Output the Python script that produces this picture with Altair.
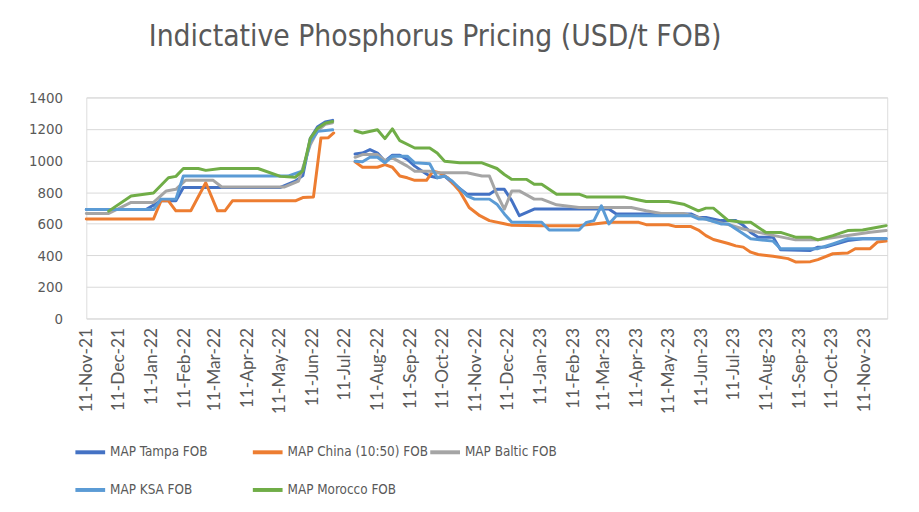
import altair as alt
import pandas as pd

SERIES = ["MAP Tampa FOB", "MAP China (10:50) FOB", "MAP Baltic FOB", "MAP KSA FOB", "MAP Morocco FOB"]
COLORS = ["#4472C4", "#ED7D31", "#A5A5A5", "#5B9BD5", "#70AD47"]

TAMPA_DATES = ["2021-11-11", "2022-01-06", "2022-01-20", "2022-02-03", "2022-02-10", "2022-05-12", "2022-05-26",
               "2022-06-02", "2022-06-09", "2022-06-16", "2022-06-23", "2022-06-30",
               "2022-07-21", "2022-07-28", "2022-08-04", "2022-08-11", "2022-08-18", "2022-08-25", "2022-09-01",
               "2022-09-08", "2022-09-15", "2022-09-22", "2022-09-29", "2022-10-06", "2022-10-13", "2022-10-20",
               "2022-11-03", "2022-11-24", "2022-12-01", "2022-12-08", "2022-12-15", "2022-12-22", "2022-12-29",
               "2023-01-05", "2023-03-16", "2023-03-23", "2023-06-01", "2023-06-08", "2023-06-15", "2023-06-29",
               "2023-07-13", "2023-07-20", "2023-07-27", "2023-08-03", "2023-08-17", "2023-08-24", "2023-09-21",
               "2023-09-28", "2023-10-05", "2023-10-26", "2023-11-09", "2023-12-01"]
TAMPA_VALUES = [690, 690, 745, 745, 830, 830, 870, 905, 1140, 1215, 1245, 1255,
                1042, 1048, 1070, 1048, 996, 1034, 1034, 1007, 965, 933, 902, 891, 902, 860,
                787, 787, 818, 818, 745, 651, 672, 693, 693, 662, 662, 640, 640, 620,
                620, 590, 545, 515, 515, 435, 431, 452, 452, 494, 505, 505]

CHINA_DATES = ["2021-11-11", "2022-01-13", "2022-01-20", "2022-01-27", "2022-02-03", "2022-02-17", "2022-03-03",
               "2022-03-14", "2022-03-21", "2022-03-28", "2022-05-26", "2022-06-02", "2022-06-12", "2022-06-19",
               "2022-06-26", "2022-07-01",
               "2022-07-21", "2022-07-28", "2022-08-11", "2022-08-18", "2022-08-25", "2022-09-01", "2022-09-08",
               "2022-09-15", "2022-09-26", "2022-10-02", "2022-10-08", "2022-10-16", "2022-10-27", "2022-11-05",
               "2022-11-15", "2022-11-24", "2022-12-08", "2022-12-15", "2023-01-12", "2023-02-16", "2023-03-02",
               "2023-03-16", "2023-04-13", "2023-04-20", "2023-05-11", "2023-05-18", "2023-06-01", "2023-06-08",
               "2023-06-15", "2023-06-22", "2023-07-06", "2023-07-13", "2023-07-20", "2023-07-27", "2023-08-03",
               "2023-08-17", "2023-08-31", "2023-09-07", "2023-09-21", "2023-09-28", "2023-10-12", "2023-10-26",
               "2023-11-02", "2023-11-16", "2023-11-23", "2023-12-01"]
CHINA_VALUES = [630, 630, 745, 745, 682, 682, 860, 682, 682, 745, 745, 766, 770, 1143, 1145, 1175,
                992, 958, 958, 975, 958, 902, 891, 875, 875, 933, 923, 891, 808, 703,
                651, 620, 600, 590, 588, 588, 599, 609, 609, 594, 594, 582, 582, 560,
                525, 500, 475, 460, 452, 420, 405, 394, 379, 358, 360, 373, 410, 415,
                442, 442, 485, 490]

BALTIC_DATES = ["2021-11-11", "2021-12-02", "2021-12-23", "2022-01-13", "2022-01-25", "2022-02-03", "2022-02-12",
                "2022-03-10", "2022-03-18", "2022-05-16", "2022-05-29", "2022-06-09", "2022-06-16", "2022-06-23",
                "2022-06-30",
                "2022-07-21", "2022-07-28", "2022-08-11", "2022-08-18", "2022-08-25", "2022-09-08", "2022-09-15",
                "2022-09-29", "2022-10-06", "2022-11-03", "2022-11-17", "2022-11-24", "2022-12-01", "2022-12-08",
                "2022-12-15", "2022-12-22", "2023-01-05", "2023-01-12", "2023-01-26", "2023-02-16", "2023-04-06",
                "2023-04-20", "2023-05-04", "2023-05-25", "2023-06-08", "2023-06-22", "2023-07-06", "2023-07-20",
                "2023-08-10", "2023-09-07", "2023-09-28", "2023-10-05", "2023-10-26", "2023-11-16", "2023-12-01"]
BALTIC_VALUES = [665, 665, 735, 735, 808, 818, 875, 875, 833, 833, 870, 1100, 1190, 1230, 1240,
                 1021, 1038, 1038, 1000, 1017, 965, 933, 933, 923, 923, 902, 902, 787, 693,
                 808, 808, 756, 756, 720, 703, 703, 682, 665, 665, 640, 615, 595, 567,
                 536, 498, 498, 505, 525, 546, 557]

KSA_DATES = ["2021-11-11", "2022-01-13", "2022-01-20", "2022-02-03", "2022-02-10", "2022-05-19", "2022-06-02",
             "2022-06-09", "2022-06-16", "2022-06-30",
             "2022-07-21", "2022-07-28", "2022-08-04", "2022-08-11", "2022-08-18", "2022-08-25", "2022-09-08",
             "2022-09-15", "2022-09-29", "2022-10-06", "2022-10-13", "2022-10-20", "2022-11-03", "2022-11-10",
             "2022-11-24", "2022-12-01", "2022-12-08", "2022-12-15", "2023-01-12", "2023-01-19", "2023-02-16",
             "2023-02-23", "2023-03-02", "2023-03-09", "2023-03-16", "2023-03-23", "2023-06-01", "2023-06-08",
             "2023-06-15", "2023-06-29", "2023-07-06", "2023-07-20", "2023-07-27", "2023-08-17", "2023-08-24",
             "2023-09-28", "2023-10-12", "2023-10-26", "2023-12-01"]
KSA_VALUES = [690, 690, 756, 756, 902, 902, 935, 1120, 1185, 1195,
              996, 993, 1021, 1021, 986, 1028, 1028, 986, 980, 891, 902, 871, 777, 756,
              756, 724, 662, 609, 609, 560, 560, 609, 620, 714, 599, 651, 651, 630,
              630, 599, 599, 536, 505, 490, 442, 442, 473, 505, 505]

MOROCCO_DATES = ["2021-12-02", "2021-12-23", "2022-01-13", "2022-01-27", "2022-02-03", "2022-02-10", "2022-02-24",
                 "2022-03-03", "2022-03-17", "2022-04-21", "2022-05-12", "2022-05-26", "2022-06-02", "2022-06-09",
                 "2022-06-16", "2022-06-23", "2022-06-30",
                 "2022-07-21", "2022-07-28", "2022-08-11", "2022-08-18", "2022-08-25", "2022-09-01", "2022-09-15",
                 "2022-09-29", "2022-10-06", "2022-10-13", "2022-10-27", "2022-11-17", "2022-12-01", "2022-12-08",
                 "2022-12-15", "2022-12-29", "2023-01-05", "2023-01-12", "2023-01-26", "2023-02-16", "2023-02-23",
                 "2023-03-30", "2023-04-13", "2023-04-20", "2023-05-11", "2023-05-25", "2023-06-08", "2023-06-15",
                 "2023-06-22", "2023-07-06", "2023-07-20", "2023-07-27", "2023-08-10", "2023-08-24", "2023-09-07",
                 "2023-09-21", "2023-09-28", "2023-10-12", "2023-10-26", "2023-11-09", "2023-11-23", "2023-12-01"]
MOROCCO_VALUES = [680, 776, 795, 891, 900, 950, 950, 938, 950, 950, 900, 895, 935, 1140,
                  1205, 1237, 1248,
                  1189, 1175, 1195, 1139, 1201, 1126, 1080, 1080, 1048, 996, 986, 986, 950, 912,
                  881, 881, 850, 850, 787, 787, 770, 770, 750, 741, 741, 724, 682, 699,
                  699, 620, 609, 609, 546, 545, 515, 515, 498, 525, 557, 560, 578, 588]

GAP_DATE = "2022-07-11"
Y_TICKS = [0, 200, 400, 600, 800, 1000, 1200, 1400]
X_TICKS = ["2021-11-11", "2021-12-11", "2022-01-11", "2022-02-11", "2022-03-11", "2022-04-11", "2022-05-11",
           "2022-06-11", "2022-07-11", "2022-08-11", "2022-09-11", "2022-10-11", "2022-11-11", "2022-12-11",
           "2023-01-11", "2023-02-11", "2023-03-11", "2023-04-11", "2023-05-11", "2023-06-11", "2023-07-11",
           "2023-08-11", "2023-09-11", "2023-10-11", "2023-11-11"]
X_DOMAIN = ["2021-11-11", "2023-12-02"]

TITLE = "Indictative Phosphorus Pricing (USD/t FOB)"
NARROW = "DejaVu Sans Condensed, Lato"
TEXT_COLOR = "#595959"


def dt(s):
    y, m, d = (int(p) for p in s.split("-"))
    return alt.DateTime(year=y, month=m, date=d)


frames = []
for name, dates, vals in [(SERIES[0], TAMPA_DATES, TAMPA_VALUES), (SERIES[1], CHINA_DATES, CHINA_VALUES),
                          (SERIES[2], BALTIC_DATES, BALTIC_VALUES), (SERIES[3], KSA_DATES, KSA_VALUES),
                          (SERIES[4], MOROCCO_DATES, MOROCCO_VALUES)]:
    f = pd.DataFrame({"date": dates, "value": vals})
    f["series"] = name
    f["seg"] = (f["date"] > GAP_DATE).astype(int)
    f["date"] = f["date"] + "T00:00:00"
    frames.append(f)
df = pd.concat(frames, ignore_index=True)

chart = alt.Chart(df).mark_line(strokeWidth=3, strokeJoin="round", strokeCap="round").encode(
    x=alt.X("date:T",
            scale=alt.Scale(domain=[dt(X_DOMAIN[0]), dt(X_DOMAIN[1])]),
            axis=alt.Axis(values=[dt(s) for s in X_TICKS], format="%d-%b-%y", labelAngle=270,
                          title=None, grid=False, domain=False, ticks=False, labelPadding=9,
                          labelFont="Lato", labelFontSize=17.5, labelColor=TEXT_COLOR,
                          labelOverlap=False)),
    y=alt.Y("value:Q",
            scale=alt.Scale(domain=[0, 1400], nice=False, zero=True),
            axis=alt.Axis(values=Y_TICKS, format="d", title=None, domain=False, ticks=False,
                          labelPadding=24, labelFont=NARROW, labelFontSize=15, labelColor=TEXT_COLOR,
                          gridColor="#D9D9D9", gridWidth=1)),
    color=alt.Color("series:N",
                    scale=alt.Scale(domain=SERIES, range=COLORS),
                    legend=alt.Legend(orient="none", legendX=-13, legendY=341, direction="horizontal",
                                      columns=3, gridAlign="all", columnPadding=-20, rowPadding=13,
                                      padding=0, symbolType="stroke", symbolSize=900,
                                      symbolStrokeWidth=4, labelFont=NARROW, labelFontSize=13.5,
                                      labelColor=TEXT_COLOR, labelOffset=3, title=None)),
    detail="seg:N",
).properties(
    width=808,
    height=223,
    title=alt.TitleParams(TITLE, anchor="start", frame="group", dx=63, offset=39,
                          font=NARROW, fontSize=30, fontWeight="normal", color=TEXT_COLOR),
    padding={"left": 79, "top": 88, "right": 24, "bottom": 193},
    autosize=alt.AutoSizeParams(type="none"),
).configure_view(stroke=None).configure(background="white")

chart.save("out.html", embed_options={"renderer": "svg", "actions": False})
